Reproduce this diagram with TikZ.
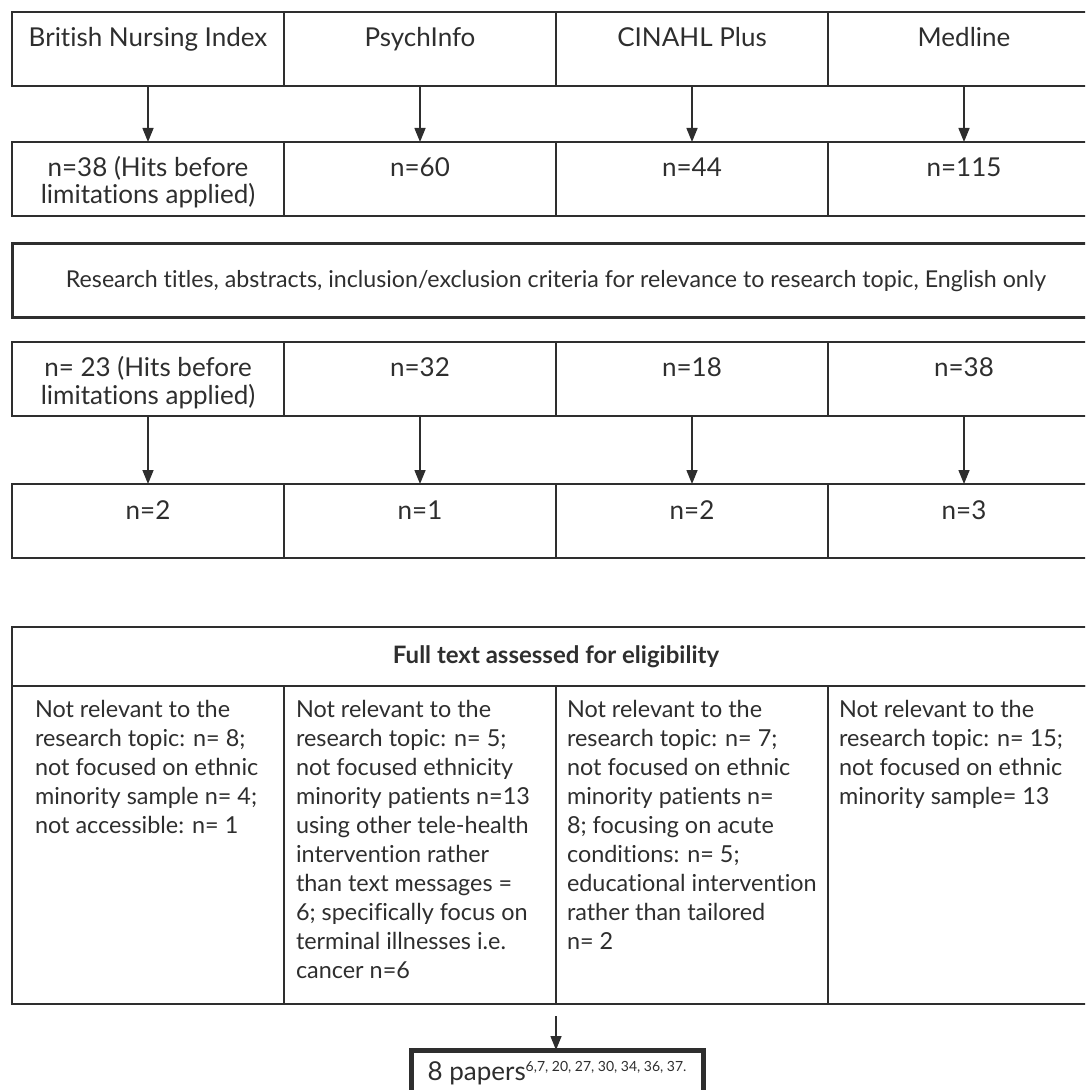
\documentclass[tikz,border=0pt]{standalone}
\usepackage{fontspec}
\setmainfont{Lato}[Ligatures=NoCommon]
\usetikzlibrary{arrows.meta}
\definecolor{ink}{HTML}{2E2E2E}
\tikzset{
  box/.style={draw=ink, line width=0.75pt, inner sep=0pt, outer sep=0pt, anchor=north west, text=ink},
  cell/.style={box, font=\fontsize{13}{13.5}\selectfont,
    execute at begin node={\begin{minipage}[c][37pt][t]{136pt}\centering\rule{0pt}{17.5pt}},
    execute at end node={\end{minipage}}},
  excl/.style={box, font=\fontsize{11.7}{14.5}\selectfont,
    execute at begin node={\begin{minipage}[c][159pt][t]{136pt}\raggedright\leftskip=#1\rule{0pt}{15.5pt}},
    execute at end node={\end{minipage}}},
  flow/.style={draw=ink, line width=0.75pt, -{Triangle[length=7pt,width=5.5pt]}}
}
\begin{document}
\begin{tikzpicture}[x=0.5pt, y=-0.5pt]
    \useasboundingbox (0,0) rectangle (1085,1090);
    \clip (0,0) rectangle (1085,1090);
    % databases
    \node[cell] (db1) at (12,12) {British Nursing Index};
    \node[cell] (db2) at (284,12) {PsychInfo};
    \node[cell] (db3) at (556,12) {CINAHL Plus};
    \node[cell] (db4) at (828,12) {Medline};
    % hits
    \node[cell] (hit1) at (12,142) {n=38 (Hits before\\limitations applied)};
    \node[cell] (hit2) at (284,142) {n=60};
    \node[cell] (hit3) at (556,142) {n=44};
    \node[cell] (hit4) at (828,142) {n=115};
    \draw[flow] (db1) -- (hit1);
    \draw[flow] (db2) -- (hit2);
    \draw[flow] (db3) -- (hit3);
    \draw[flow] (db4) -- (hit4);
    % screening
    \node[box, line width=1.5pt, minimum width=544pt, minimum height=37pt, font=\fontsize{11.6}{13.5}\selectfont] (res) at (12,244)
        {Research titles, abstracts, inclusion/exclusion criteria for relevance to research topic, English only};
    \node[cell] (scr1) at (12,342) {n= 23 (Hits before\\limitations applied)};
    \node[cell] (scr2) at (284,342) {n=32};
    \node[cell] (scr3) at (556,342) {n=18};
    \node[cell] (scr4) at (828,342) {n=38};
    \node[cell] (inc1) at (12,484) {n=2};
    \node[cell] (inc2) at (284,484) {n=1};
    \node[cell] (inc3) at (556,484) {n=2};
    \node[cell] (inc4) at (828,484) {n=3};
    \draw[flow] (scr1) -- (inc1);
    \draw[flow] (scr2) -- (inc2);
    \draw[flow] (scr3) -- (inc3);
    \draw[flow] (scr4) -- (inc4);
    % full text
    \node[box, minimum width=544pt, minimum height=29.5pt, font=\fontsize{12}{13.5}\selectfont\bfseries] (full) at (12,627)
        {Full text assessed for eligibility};
    \node[excl=11.5pt] (ex1) at (12,686) {Not relevant to the\\research topic: n= 8;\\not focused on ethnic\\minority sample n= 4;\\not accessible: n= 1};
    \node[excl=6pt] (ex2) at (284,686) {Not relevant to the\\research topic: n= 5;\\not focused ethnicity\\minority patients n=13\\using other tele-health\\intervention rather\\than text messages =\\6; specifically focus on\\terminal illnesses i.e.\\cancer n=6};
    \node[excl=5.5pt] (ex3) at (556,686) {Not relevant to the\\research topic: n= 7;\\not focused on ethnic\\minority patients n=\\8; focusing on acute\\conditions: n= 5;\\educational intervention\\rather than tailored\\n= 2};
    \node[excl=5.5pt] (ex4) at (828,686) {Not relevant to the\\research topic: n= 15;\\not focused on ethnic\\minority sample= 13};
    % result
    \node[draw=ink, line width=2.5pt, inner sep=0pt, outer sep=0pt, minimum width=146pt, text height=15pt, text depth=20pt,
        anchor=north, text=ink, font=\fontsize{13}{13.5}\selectfont] (papers) at (557,1050)
        {8 papers\raisebox{4.5pt}{\fontsize{7}{7.5}\selectfont 6,7, 20, 27, 30, 34, 36, 37.}};
    \draw[flow, shorten <=6pt] (ex2.south east) -- (ex2.south east |- papers.north);
\end{tikzpicture}
\end{document}
